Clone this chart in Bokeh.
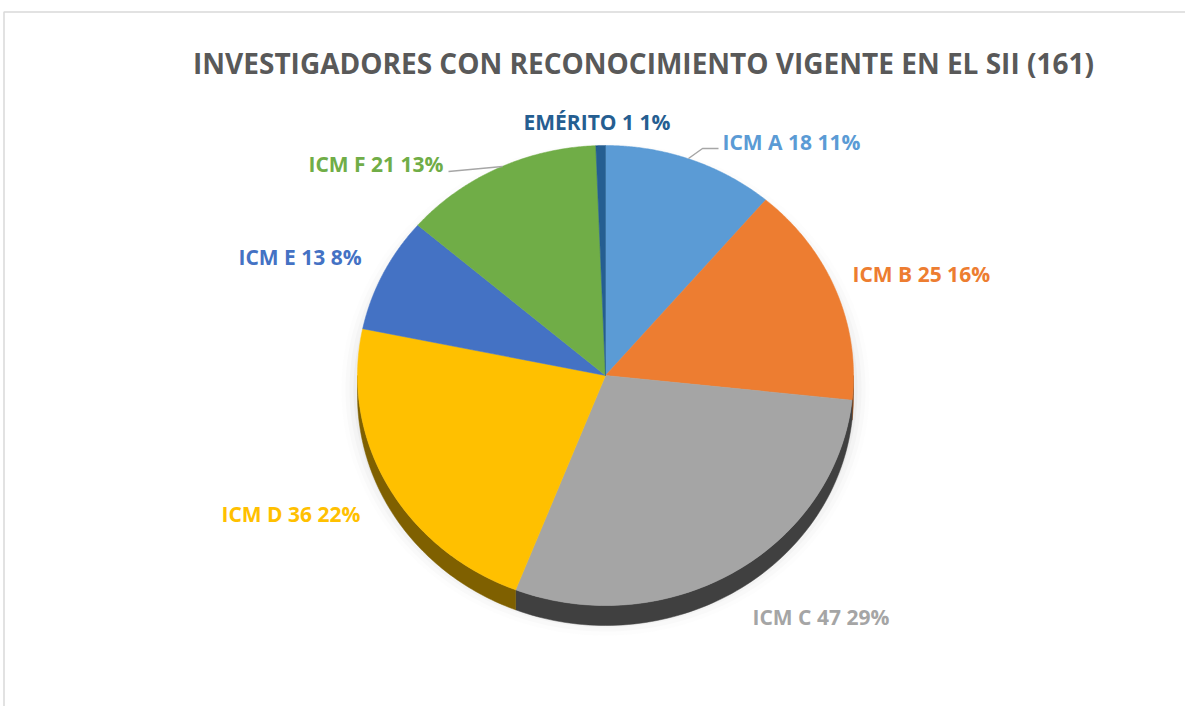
import numpy as np
from bokeh.plotting import figure
from bokeh.models import Range1d
from bokeh.core.properties import value
from bokeh.embed import file_html
from bokeh.resources import INLINE

# ---- data ----
categories = ["ICM A", "ICM B", "ICM C", "ICM D", "ICM E", "ICM F", "EMÉRITO"]
counts = [18, 25, 47, 36, 13, 21, 1]
percent_labels = ["11%", "16%", "29%", "22%", "8%", "13%", "1%"]
title_text = "INVESTIGADORES CON RECONOCIMIENTO VIGENTE EN EL SII (161)"

# ---- styles ----
top_colors = ["#5B9BD5", "#ED7D31", "#A5A5A5", "#FFC000", "#4472C4", "#70AD47", "#255E91"]
side_colors = ["#2E5F8A", "#8A4310", "#404040", "#7F6000", "#22406F", "#3E6B22", "#12304B"]
label_colors = ["#5B9BD5", "#ED7D31", "#A5A5A5", "#FFC000", "#4472C4", "#70AD47", "#255E91"]
# label anchor (left edge, vertical middle) in page pixel coords
label_pos = [(722, 141), (852, 273), (752, 616), (221, 513), (238, 256), (308, 163), (523, 121)]
FONT = "Open Sans"

W, H = 1185, 706
cx, cy, rx, ry, depth = 605, 375, 248, 230, 20

p = figure(width=W, height=H, output_backend="svg", toolbar_location=None,
           x_range=Range1d(0, W), y_range=Range1d(H, 0),
           min_border=0, outline_line_color=None)
p.axis.visible = False
p.grid.visible = False
p.background_fill_color = "white"
p.border_fill_color = "white"

# frame
p.line([3.5, 3.5, W], [H, 11.5, 11.5], line_color="#D9D9D9", line_width=1.5)

# soft shadow
t = np.linspace(0, 2 * np.pi, 200)
for k, a in [(16, 0.02), (12, 0.03), (8, 0.04), (4, 0.06)]:
    p.patch(cx + (rx + k) * np.cos(t), cy + depth / 2 + 4 + (ry + k) * np.sin(t),
            fill_color="#808080", fill_alpha=a, line_color=None)

total = sum(counts)
angles = np.cumsum([0] + counts) / total * 2 * np.pi  # clockwise from top


def pt(theta, dy=0.0):
    # theta measured clockwise from top; screen y grows downward
    return cx + rx * np.sin(theta), cy + dy - ry * np.cos(theta)


# side (3D rim) – only the lower half of the ellipse is visible
for i in range(len(counts)):
    a0, a1 = angles[i], angles[i + 1]
    lo, hi = max(a0, np.pi / 2), min(a1, 3 * np.pi / 2)
    if hi <= lo:
        continue
    th = np.linspace(lo, hi, 80)
    xt, yt = pt(th)
    xb, yb = pt(th[::-1], depth)
    p.patch(np.concatenate([xt, xb]), np.concatenate([yt, yb]),
            fill_color=side_colors[i], line_color=side_colors[i], line_width=0.5)

# top face
for i in range(len(counts)):
    th = np.linspace(angles[i], angles[i + 1], 120)
    xs, ys = pt(th)
    p.patch(np.concatenate([[cx], xs]), np.concatenate([[cy], ys]),
            fill_color=top_colors[i], line_color=top_colors[i], line_width=0.5)

# leader lines
p.line([688, 702, 718], [158, 148, 148], line_color="#A6A6A6", line_width=1.5)
p.line([448, 502], [171, 166], line_color="#A6A6A6", line_width=1.5)

# labels
for i, c in enumerate(categories):
    x, y = label_pos[i]
    p.text(x=[x], y=[y], text=[f"{c} {counts[i]} {percent_labels[i]}"],
           text_color=label_colors[i], text_font=value(FONT), text_font_style="bold",
           text_font_size="21px", text_align="left", text_baseline="middle")

# title
p.text(x=[643], y=[62], text=[title_text], text_color="#595959", text_font=value(FONT),
       text_font_style="bold", text_font_size="28px", text_align="center",
       text_baseline="middle")

open("out.html", "w").write(file_html(p, INLINE))
